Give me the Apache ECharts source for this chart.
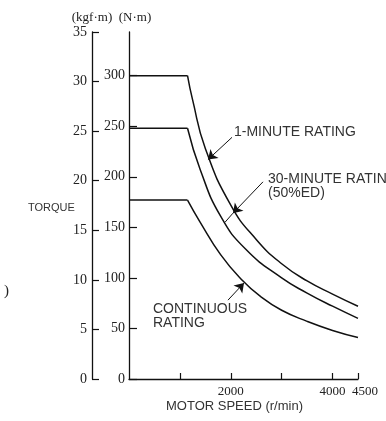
<!DOCTYPE html>
<html>
<head>
<meta charset="utf-8">
<script src="https://cdn.jsdelivr.net/npm/echarts@6/dist/echarts.min.js"></script>
<style>
html,body{margin:0;padding:0;background:#fff;}
#chart{width:386px;height:421px;}
</style>
</head>
<body>
<div id="chart"></div>
<script>
// ---- data ----
const speedTicks = [1000, 2000, 3000, 4000, 4500];
const speedLabels = [2000, 4000, 4500];
const nmTicks = [0, 50, 100, 150, 200, 250, 300];
const kgfMax = 35;
const nmMax = 343.2; // 35 kgf·m in N·m

const cornerSpeed = 1150;
const oneMinSpeeds = [1150, 1250, 1500, 2000, 2500, 3000, 3500, 4000, 4500];
const oneMinTorque = [300, 276, 228, 172, 138, 114, 97, 84, 72];
const thirtyMinSpeeds = [1150, 1400, 1800, 2300, 3000, 3500, 4000, 4500];
const thirtyMinTorque = [248, 207, 161, 128, 100, 85, 72, 60];
const contSpeeds = [1150, 1400, 1800, 2200, 2600, 3000, 3500, 4000, 4500];
const contTorque = [177, 155, 123, 99, 81, 68, 57, 48, 41];

// arrow annotations [speed, N·m]
const arrowOneMin = [[2024, 239], [1552, 217]];
const arrowThirty = [[2633, 195], [2043, 164]];
const arrowThirtyTip = [[2043, 164], [1886, 155]];
const arrowCont = [[1945, 78], [2260, 95]];

const pairs = (xs, ys) => xs.map((x, i) => [x, ys[i]]);
const flat = v => [[0, v], [cornerSpeed, v]];

const ink = '#111';
const serif = '"Liberation Serif", "DejaVu Serif", serif';
const sans = '"Liberation Sans", "DejaVu Sans", sans-serif';

const lineStyle = { color: ink, width: 1.5 };
function flatSeries(v) {
  return { type: 'line', yAxisIndex: 1, data: flat(v), symbol: 'none', lineStyle, silent: true };
}
function curveSeries(xs, ys) {
  return { type: 'line', yAxisIndex: 1, data: pairs(xs, ys), symbol: 'none', smooth: 0.5, lineStyle, silent: true };
}
function ml(seg, withArrow) {
  return [{ coord: seg[0], symbol: 'none' }, { coord: seg[1], symbol: withArrow ? 'arrow' : 'none', symbolSize: 9 }];
}

const chart = echarts.init(document.getElementById('chart'), null, { renderer: 'canvas' });
chart.setOption({
  animation: false,
  backgroundColor: '#fff',
  grid: { left: 129, right: 28, top: 32, bottom: 42, containLabel: false },
  xAxis: {
    type: 'value', min: 0, max: 4500,
    axisLine: { onZero: false, lineStyle: { color: ink, width: 1.3 } },
    axisTick: { show: true, inside: true, length: 6, customValues: speedTicks, lineStyle: { color: ink, width: 1.2 } },
    axisLabel: {
      customValues: speedLabels, margin: 6, color: '#222', fontFamily: serif, fontSize: 13,
      formatter: v => v === 4500 ? '{m|4500}' : String(v),
      rich: { m: { fontFamily: serif, fontSize: 13, color: '#222', padding: [0, 0, 0, 14] } }
    },
    splitLine: { show: false }
  },
  yAxis: [
    {
      type: 'value', min: 0, max: kgfMax, interval: 5, position: 'left', offset: 37,
      name: '(kgf·m)', nameLocation: 'end', nameGap: 8,
      nameTextStyle: { fontFamily: serif, fontSize: 13, color: '#222', align: 'center' },
      axisLine: { show: true, onZero: false, lineStyle: { color: ink, width: 1.3 } },
      axisTick: { show: true, inside: true, length: 7, lineStyle: { color: ink, width: 1.2 } },
      axisLabel: { margin: 5, color: '#222', fontFamily: serif, fontSize: 14 },
      splitLine: { show: false }
    },
    {
      type: 'value', min: 0, max: nmMax, position: 'left', offset: 0,
      name: '(N·m)', nameLocation: 'end', nameGap: 8,
      nameTextStyle: { fontFamily: serif, fontSize: 13, color: '#222', align: 'center', padding: [0, 0, 0, 12] },
      axisLine: { show: true, onZero: false, lineStyle: { color: ink, width: 1.3 } },
      axisTick: { show: true, inside: true, length: 8, customValues: nmTicks, lineStyle: { color: ink, width: 1.2 } },
      axisLabel: { customValues: nmTicks, margin: 4, color: '#222', fontFamily: serif, fontSize: 14 },
      splitLine: { show: false }
    }
  ],
  series: [
    flatSeries(oneMinTorque[0]),
    curveSeries(oneMinSpeeds, oneMinTorque),
    flatSeries(thirtyMinTorque[0]),
    curveSeries(thirtyMinSpeeds, thirtyMinTorque),
    flatSeries(contTorque[0]),
    Object.assign(curveSeries(contSpeeds, contTorque), {
      markLine: {
        silent: true, animation: false,
        symbol: ['none', 'arrow'], symbolSize: 9,
        label: { show: false },
        lineStyle: { color: ink, width: 1, type: 'solid' },
        emphasis: { disabled: true },
        data: [ml(arrowOneMin, true), ml(arrowThirty, true), ml(arrowCont, true), ml(arrowThirtyTip, false)]
      }
    })
  ],
  graphic: [
    { type: 'text', left: 28, top: 202, style: { text: 'TORQUE', font: '11px ' + sans, fill: '#333' } },
    { type: 'text', left: 4, top: 284, style: { text: ')', font: '15px ' + serif, fill: '#222' } },
    { type: 'text', left: 166, top: 400, style: { text: 'MOTOR SPEED (r/min)', font: '13px ' + sans, fill: '#333' } },
    { type: 'text', left: 234, top: 125, style: { text: '1-MINUTE RATING', font: '14px ' + sans, fill: '#333' } },
    { type: 'text', left: 268, top: 172, style: { text: '30-MINUTE RATING', font: '14px ' + sans, fill: '#333' } },
    { type: 'text', left: 268, top: 186, style: { text: '(50%ED)', font: '14px ' + sans, fill: '#333' } },
    { type: 'text', left: 153, top: 302, style: { text: 'CONTINUOUS', font: '14px ' + sans, fill: '#333' } },
    { type: 'text', left: 153, top: 316, style: { text: 'RATING', font: '14px ' + sans, fill: '#333' } }
  ]
});
</script>
</body>
</html>
